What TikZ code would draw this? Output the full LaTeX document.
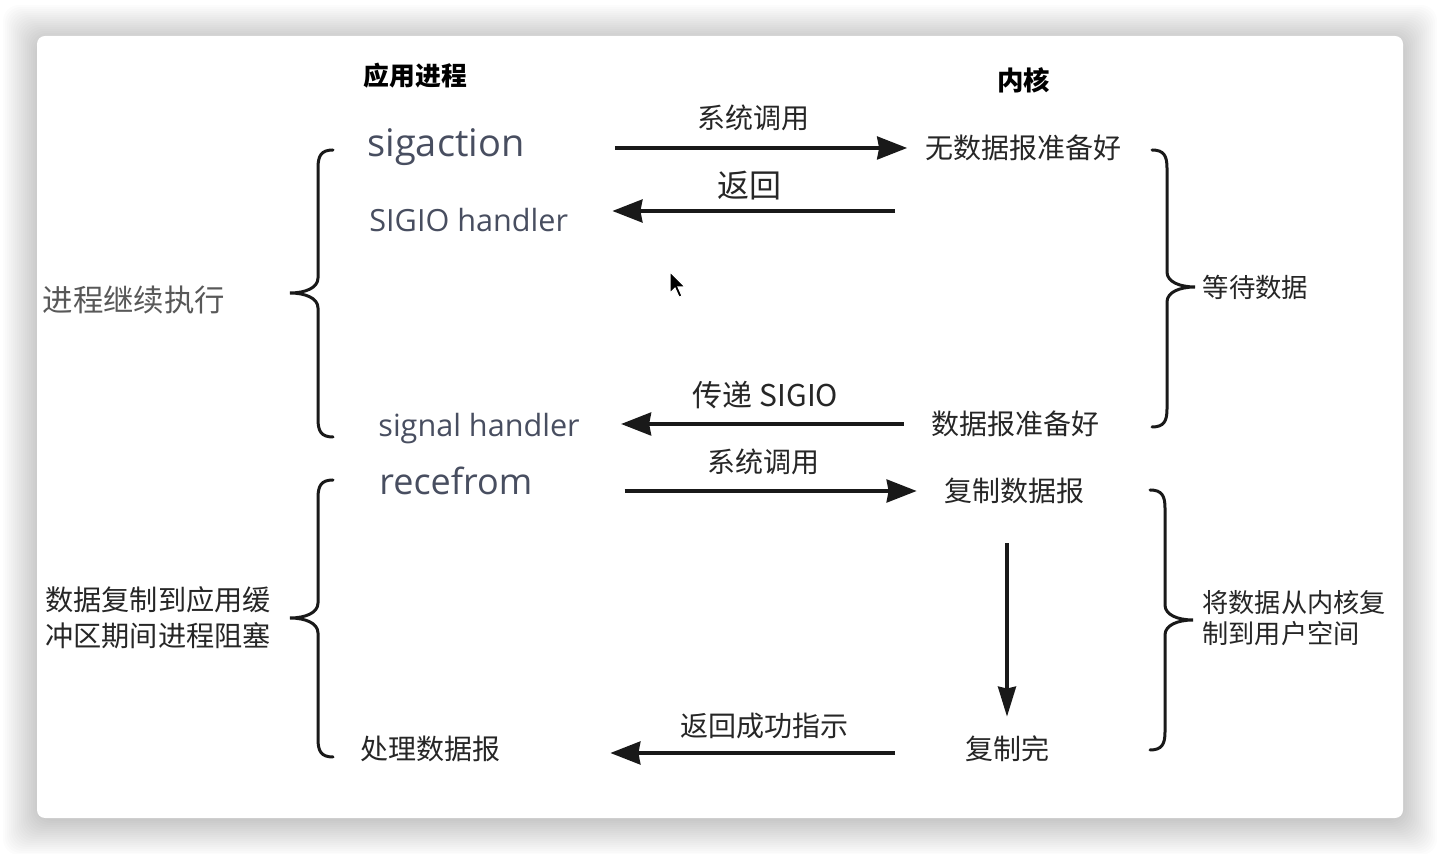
\documentclass[tikz,border=0pt]{standalone}
\usepackage{fontspec}
\setmainfont{Open Sans}
\newfontfamily\cjk{Noto Sans CJK SC}
\usetikzlibrary{arrows.meta}
\definecolor{codetxt}{RGB}{72,78,96}
\definecolor{cntxt}{RGB}{38,38,38}
\definecolor{softtxt}{RGB}{88,88,88}
\definecolor{inkline}{RGB}{25,25,25}

\begin{document}
\begin{tikzpicture}[x=0.5pt,y=-0.5pt,
	cn/.style={font=\cjk\fontsize{14}{17}\selectfont,text=cntxt,inner sep=0pt},
	code/.style={font=\fontsize{15.3}{18}\selectfont,text=codetxt,inner sep=0pt,anchor=west},
	arr/.style={draw=inkline,line width=1.6pt,-{Stealth[length=15pt,width=11.5pt,inset=1pt]}},
	brc/.style={draw=inkline,line width=1.5pt,line cap=round}]
	\useasboundingbox (0,0) rectangle (1440,854);
	\fill[white] (0,0) rectangle (1440,854);
	% soft shadow round the card
	\foreach \s in {0,2,...,34}
		\fill[black,fill opacity=0.012,rounded corners=8pt] (37-\s,39-\s) rectangle (1403+\s,821+\s);
	\fill[white,rounded corners=4pt] (37,36) rectangle (1403,818);

	% headings
	\node[cn,font=\cjk\bfseries\fontsize{12.9}{15}\selectfont,text=black] (app) at (415.5,76) {应用进程};
	\node[cn,font=\cjk\bfseries\fontsize{13.2}{15}\selectfont,text=black] (kern) at (1023.5,80) {内核};

	% application side
	\node[code,font=\fontsize{19}{22}\selectfont] (sigact) at (367,147) {sigaction};
	\node[code] (sigio) at (369,220) {SIGIO handler};
	\node[code] (sighand) at (378,429) {signal handler};
	\node[code,font=\fontsize{18}{21}\selectfont] (recv) at (379,481) {recefrom};
	\node[cn] (dproc) at (430,749) {处理数据报};

	% kernel side
	\node[cn] (nodata) at (1023.5,148) {无数据报准备好};
	\node[cn] (dready) at (1015,424) {数据报准备好};
	\node[cn] (copyd) at (1014,491) {复制数据报};
	\node[cn] (copied) at (1007,749) {复制完};

	% side notes
	\node[cn,font=\cjk\fontsize{15.2}{18}\selectfont,text=softtxt] (goon) at (134,300) {进程继续执行};
	\node[cn,anchor=west,align=left,font=\cjk\fontsize{14.1}{18}\selectfont] (block) at (45,618) {数据复制到应用缓\\冲区期间进程阻塞};
	\node[cn,font=\cjk\fontsize{13.2}{15}\selectfont] (wait) at (1255.5,287) {等待数据};
	\node[cn,anchor=west,align=left,font=\cjk\fontsize{13.1}{15.5}\selectfont] (copyk) at (1202,618) {将数据从内核复\\制到用户空间};

	% arrow labels
	\node[cn] (lab1) at (753.5,118) {系统调用};
	\node[cn,font=\cjk\fontsize{16}{18}\selectfont] (lab2) at (749.5,186) {返回};
	\node[cn,font=\cjk\fontsize{15}{18}\selectfont] (lab3) at (765.5,395) {传递 SIGIO};
	\node[cn] (lab4) at (763.5,462) {系统调用};
	\node[cn] (lab5) at (764,726) {返回成功指示};

	% arrows
	\coordinate (ret1) at (895,211);
	\coordinate (ret2) at (895,753);
	\draw[arr,shorten <=45pt,shorten >=9pt] (sigact.east |- nodata.west) -- (nodata.west);
	\draw[arr,shorten >=22pt] (ret1) -- (ret1 -| sigio.east);
	\draw[arr,shorten <=13.5pt,shorten >=20.5pt] (dready.west) -- (dready.west -| sighand.east);
	\draw[arr,shorten <=46pt,shorten >=13.5pt] (copyd.west -| recv.east) -- (copyd.west);
	\draw[arr,-{Stealth[length=15pt,width=9pt,inset=1pt]},shorten <=19.5pt,shorten >=9.5pt] (copyd.south -| copied.north) -- (copied.north);
	\draw[arr,shorten >=55pt] (ret2) -- (ret2 -| dproc.east);

	% braces
	\draw[brc] (333,150) .. controls (321,150) and (318,156) .. (318,168) -- (318,278) .. controls (318,288) and (305,293) .. (290,293) .. controls (305,293) and (318,298) .. (318,308) -- (318,419) .. controls (318,431) and (321,437) .. (333,437);
	\draw[brc] (333,480) .. controls (321,480) and (318,486) .. (318,498) -- (318,603) .. controls (318,613) and (305,618) .. (290,618) .. controls (305,618) and (318,623) .. (318,633) -- (318,739) .. controls (318,751) and (321,757) .. (333,757);
	\draw[brc] (1152,150) .. controls (1164,150) and (1167,156) .. (1167,168) -- (1167,272) .. controls (1167,282) and (1180,287) .. (1195,287) .. controls (1180,287) and (1167,292) .. (1167,302) -- (1167,409) .. controls (1167,421) and (1164,427) .. (1152,427);
	\draw[brc] (1150,490) .. controls (1162,490) and (1165,496) .. (1165,508) -- (1165,605) .. controls (1165,615) and (1178,620) .. (1193,620) .. controls (1178,620) and (1165,625) .. (1165,635) -- (1165,732) .. controls (1165,744) and (1162,750) .. (1150,750);

	% mouse pointer
	\filldraw[fill=black,draw=white,line width=0.5pt] (670,272) -- (670,293) -- (675,288) -- (679,297) -- (682,296) -- (678,287) -- (685,287) -- cycle;
\end{tikzpicture}
\end{document}
